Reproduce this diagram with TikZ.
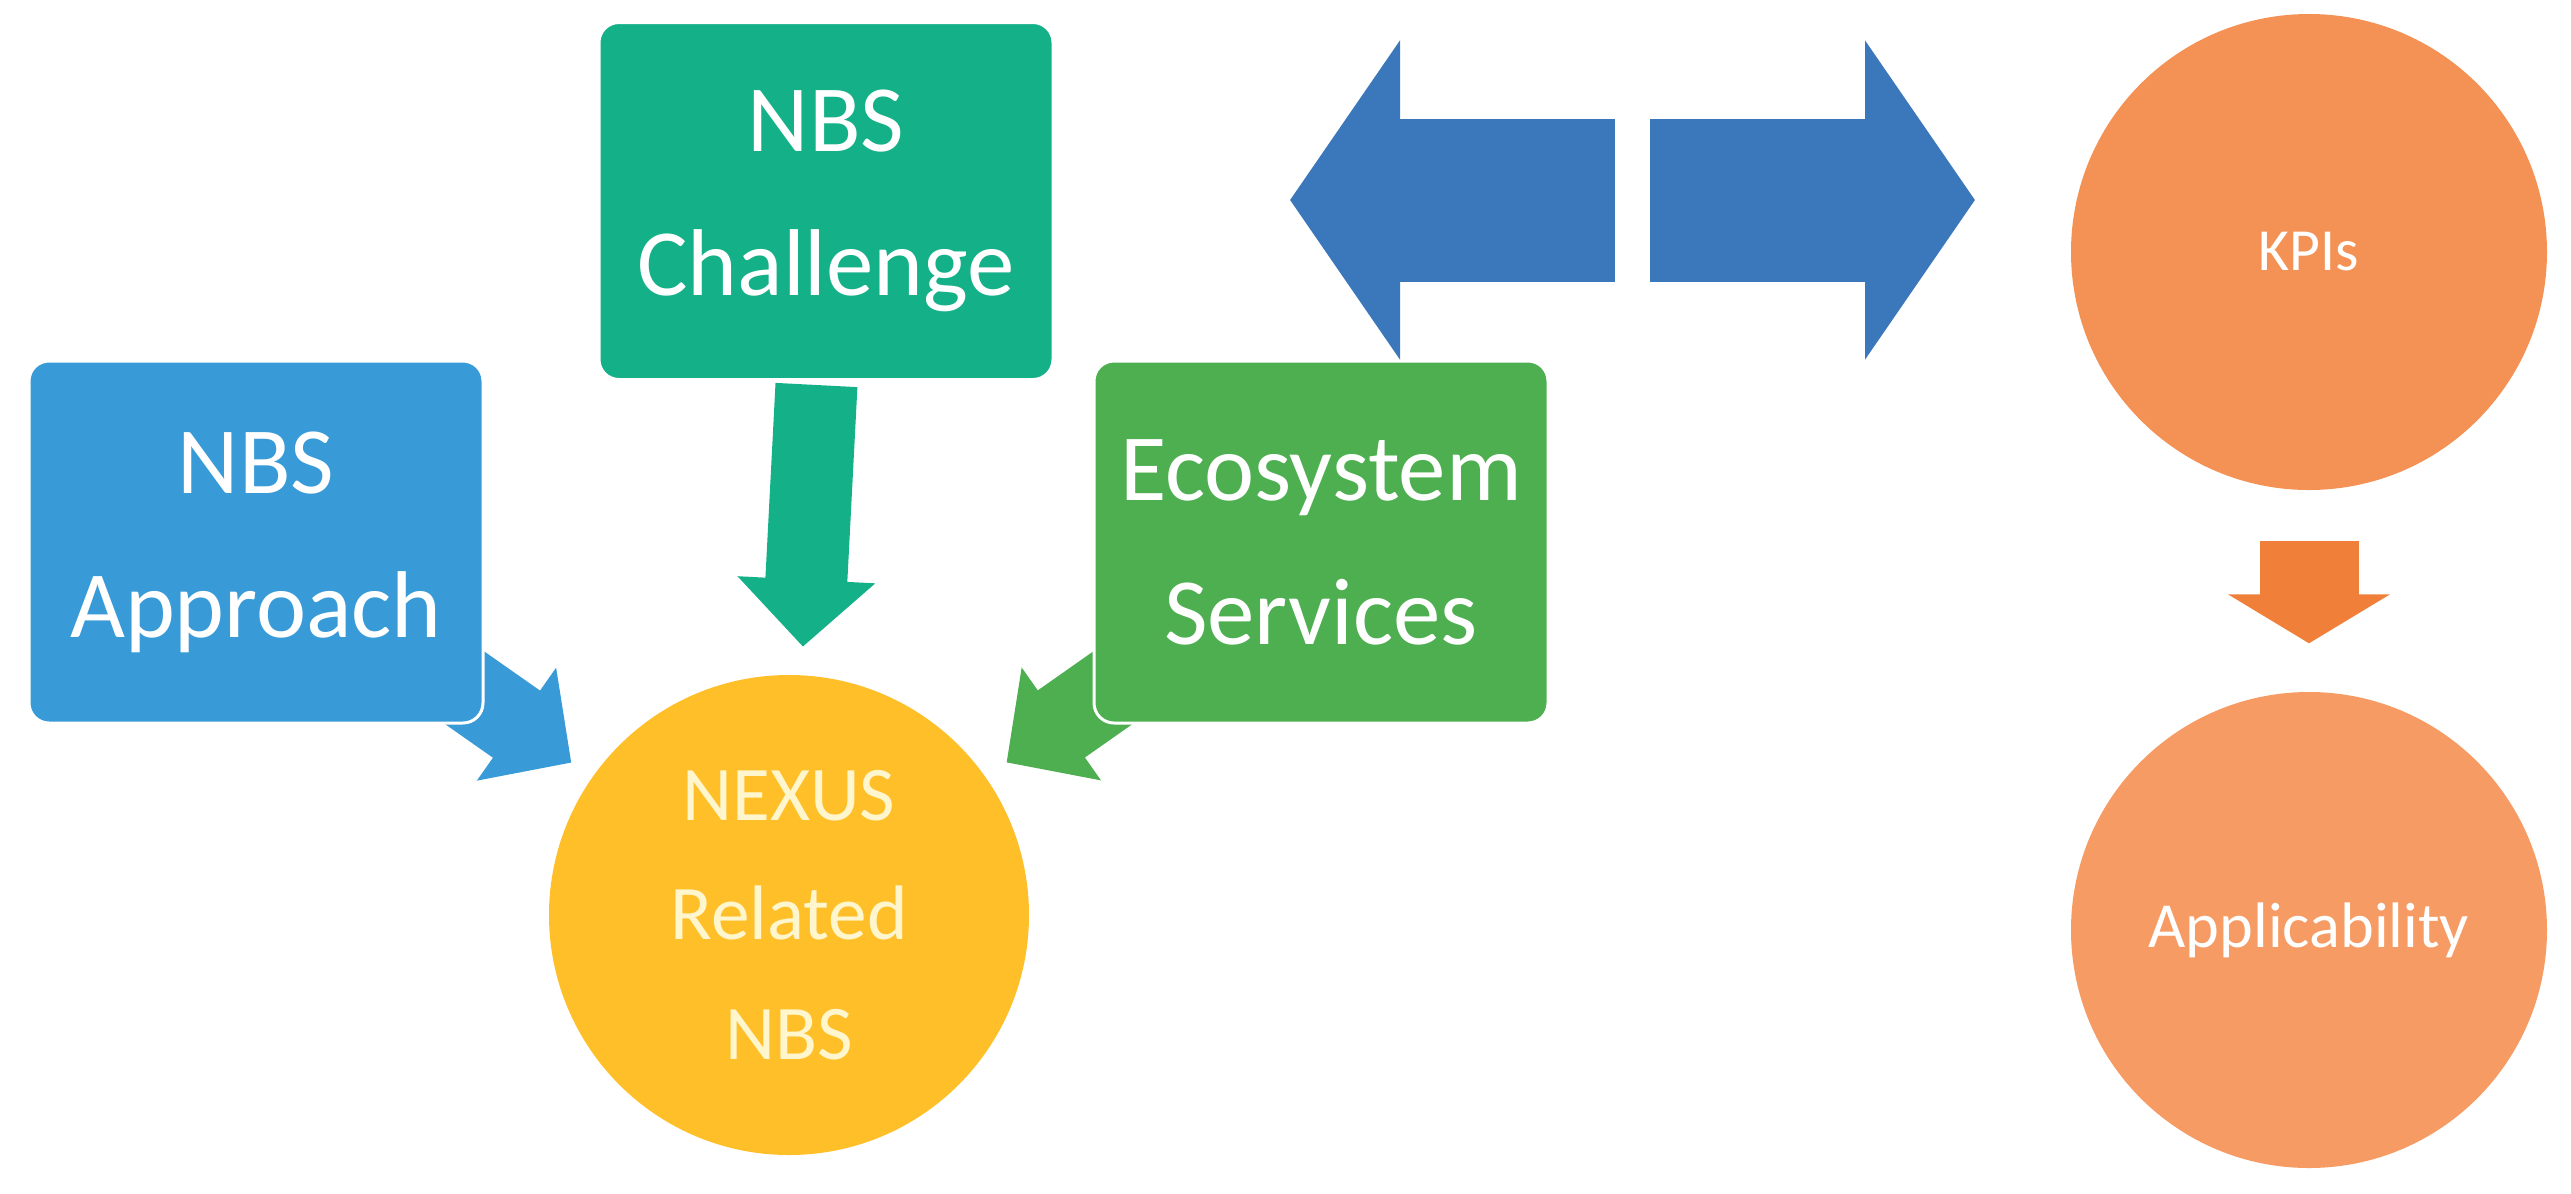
\documentclass[tikz,border=0pt]{standalone}
\usepackage{fontspec}
\setmainfont{Carlito}
\usetikzlibrary{arrows.meta,backgrounds}
\definecolor{apblue}{RGB}{56,155,216}
\definecolor{chteal}{RGB}{20,176,136}
\definecolor{esgreen}{RGB}{77,175,80}
\definecolor{nxgold}{RGB}{255,191,41}
\definecolor{nxtext}{RGB}{255,246,205}
\definecolor{kpiorange}{RGB}{244,146,85}
\definecolor{apporange}{RGB}{245,155,99}
\definecolor{arrorange}{RGB}{240,127,58}
\definecolor{dblblue}{RGB}{58,119,187}
\tikzset{
  box/.style      = {rectangle, rounded corners=2mm, draw=white, line width=0.3mm, minimum width=45.4mm, minimum height=36.2mm, text=white, align=center, font=\fontsize{27}{41}\selectfont},
  bigdot/.style   = {circle, minimum size=47.6mm, inner sep=0, align=center, text=white, font=\fontsize{17}{20}\selectfont},
  blockarr/.style = {line width=8.2mm, -{Triangle[length=6.7mm,width=13.4mm]}},
  dblarr/.style   = {line width=16.3mm, dblblue, -{Triangle[length=11mm,width=31.4mm]}}
}

\begin{document}
\begin{tikzpicture}[x=0.1mm,y=-0.1mm]
  \useasboundingbox (0,0) rectangle (2571,1193);
  % boxes and circles
  \node[box, fill=apblue] (appr) at (256,542) {NBS\\Approach};
  \node[box, fill=chteal, minimum height=35.7mm] (chal) at (826,201) {NBS\\Challenge};
  \node[box, fill=esgreen] (eco) at (1321,542) {Ecosystem\\Services};
  \node[circle, fill=nxgold, minimum size=48mm, inner sep=0, align=center, text=nxtext, font=\fontsize{22}{34}\selectfont] (nexus) at (789,915) {NEXUS\\Related\\NBS};
  \node[bigdot, fill=kpiorange] (kpi) at (2309,252) {KPIs};
  \node[bigdot, fill=apporange, font=\fontsize{18.3}{22}\selectfont] (appl) at (2309,930) {Applicability};
  % double arrow
  \coordinate (gapL) at (1615,200); \coordinate (ltip) at (1290,200);
  \coordinate (gapR) at (1650,200); \coordinate (rtip) at (1975,200);
  \draw[dblarr] (gapL) -- (ltip);
  \draw[dblarr] (gapR) -- (rtip);
  % arrows into the nexus
  \begin{scope}[on background layer]
    \draw[blockarr, apblue, shorten <=-4mm, shorten >=2.5mm] (appr) -- (nexus);
    \draw[blockarr, esgreen, shorten <=-4mm, shorten >=2.5mm] (eco) -- (nexus);
    \draw[blockarr, chteal, shorten <=0.4mm, shorten >=2.8mm] (chal) -- (nexus);
  \end{scope}
  \draw[line width=9.9mm, arrorange, -{Triangle[length=4.9mm,width=16mm]}, shorten <=5mm, shorten >=4.8mm] (kpi) -- (appl);
\end{tikzpicture}
\end{document}
